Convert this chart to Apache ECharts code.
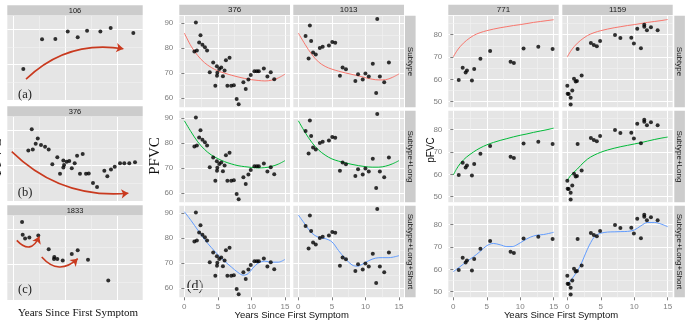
<!DOCTYPE html>
<html><head><meta charset="utf-8">
<script src="https://cdn.jsdelivr.net/npm/echarts@6/dist/echarts.min.js"></script>
<style>html,body{margin:0;padding:0;background:#fff}#c{width:686px;height:320px}</style>
</head><body><div id="c"></div>
<script>
// ---------- Schematic panels (a)-(c) (values in their own schematic units) ----------
const a106X = [0.96, 2.76, 4.04, 5.23, 6.19, 7.09, 8.37, 9.36, 11.54];
const a106Y = [78.8, 87.2, 87.3, 89.4, 87.8, 89.6, 89.4, 90.4, 89.0];
const b376X = [1.77,1.44,1.87,2.35,2.15,2.66,3.05,3.4,3.75,4.23,4.81,4.49,4.88,4.81,5.13,5.38,5.62,5.9,6.13,6.67,6.41,6.99,7.25,7.66,8.05,8.75,9.04,9.39,9.75,10.26,10.67,11.15,11.7];
const b376Y = [90.3,84.3,84.6,87.7,86.2,85.9,85.4,84.6,80.4,82.4,81.5,77.7,80.2,79.5,81.1,81.3,79.3,80.7,82.8,83.3,77.7,77.7,77.8,75.1,74.0,78.6,77.0,78.9,79.7,80.7,80.7,80.7,81.0];
const c1833X = [0.84,0.9,1.13,1.54,2.4,3.4,3.94,3.91,4.23,4.75,5.62,6.19,7.18,9.13];
const c1833Y = [92.1,88.5,87.4,87.7,88.3,84.4,82.2,81.6,81.6,81.2,83.0,84.1,81.4,75.5];
const arrowA  = [[1.22,75.9],[10.58,84.5]];
const arrowB  = [[-0.15,84.0],[11.06,72.2]];
const arrowC1 = [[0.33,86.9],[2.5,88.0]];
const arrowC2 = [[2.73,82.2],[6.19,81.7]];

// ---------- Panel (d): patients 376 and 1013 ----------
const p376X = [1.72,1.5,1.87,2.41,2.21,2.7,3.07,3.39,3.79,4.3,4.85,4.92,4.87,4.62,5.2,5.5,5.75,6.0,6.2,6.74,6.42,6.99,7.38,7.8,8.1,8.8,9.15,9.55,9.9,10.45,10.8,11.1,11.85,12.38,12.88,13.4];
const p376Y = [90.2,78.6,79.0,85.1,82.2,81.3,80.3,79.0,70.4,74.3,72.8,70.2,69.0,65.0,71.7,72.3,68.8,71.1,75.1,76.1,65.0,65.0,65.2,59.7,57.6,66.4,63.7,67.5,69.3,70.8,70.8,70.8,71.9,68.7,70.4,67.6];
const p1013X = [1.72,1.08,1.91,1.53,2.2,2.6,3.2,3.63,4.56,5.06,5.5,6.2,6.6,7.1,8.5,8.9,9.6,10.0,10.5,11.1,11.76,11.6,12.15,12.8,13.5];
const p1013Y = [89.0,84.8,82.8,75.8,78.2,77.4,80.0,80.5,81.0,82.4,82.1,69.0,72.3,71.6,66.9,69.6,67.5,69.9,68.7,73.8,91.6,62.1,68.7,66.4,74.3];
const fitX16 = [0,1,2,3,4,5,6,7,8,9,10,11,12,13,14,15];
const sub376  = [86.0,80.8,77.0,74.2,72.3,70.9,70.0,69.2,68.5,67.9,67.4,67.1,66.9,67.2,68.1,69.6];
const sub1013 = [86.0,81.5,77.5,74.5,72.7,71.6,70.8,70.1,69.5,68.9,68.2,67.6,67.3,67.4,68.3,69.7];
const long376  = [88.9,84.5,80.5,77.5,75.3,73.8,72.6,71.7,71.0,70.6,70.3,70.1,70.2,70.7,71.6,73.0];
const long1013 = [88.9,84.3,80.3,77.3,75.2,73.7,72.8,72.1,71.5,71.0,70.6,70.4,70.4,70.8,71.7,73.0];
const shortX376 = [0,1,2,3,4,5,6,7,8,8.8,9.5,10.2,11,12,13,14,15];
const short376  = [90.5,87.0,83.2,79.5,76.3,73.4,70.8,68.5,66.3,65.2,65.8,68.0,70.0,70.8,70.4,70.4,71.5];
const shortX1013 = [0,1,2,3,4,5,6,7,8,8.8,9.5,10.5,11.5,12.5,13.5,15];
const short1013  = [89.2,85.5,82.0,80.3,79.8,78.5,75.0,71.8,69.3,68.8,69.5,71.0,72.0,72.2,72.2,73.0];

// ---------- Right panel: patients 771 and 1159 ----------
const p771X = [0.81,1.4,1.84,2.04,2.78,3.12,4.05,5.5,8.56,9.05,10.5,12.7,14.84];
const p771Y = [59.7,65.2,63.1,64.0,59.5,64.6,69.2,72.7,67.9,67.3,73.8,74.6,73.6];
const p1159X = [0.0,0.05,0.2,0.5,0.5,0.74,1.0,1.25,1.44,1.54,2.14,3.52,3.96,4.41,4.9,7.13,7.93,9.56,9.95,10.45,11.0,11.5,11.5,11.9,12.5,13.5];
const p1159Y = [57.2,53.6,53.5,51.8,48.8,55.0,60.3,59.0,59.3,73.6,61.7,76.3,75.4,74.8,77.2,79.9,78.5,78.6,76.1,82.7,73.9,83.5,84.5,82.0,83.3,82.0];
const fitX18 = [0,0.5,1,1.5,2,3,4,5,6,7,8,9,10,11,12,13,14,15];
const sub771  = [70.1,72.6,74.6,76.2,77.5,79.6,80.9,81.8,82.5,83.1,83.6,84.1,84.5,85.0,85.5,85.9,86.3,86.7];
const sub1159 = [70.1,72.6,74.6,76.2,77.5,79.6,80.9,81.8,82.5,83.1,83.6,84.1,84.5,85.0,85.5,85.9,86.3,86.8];
const long771  = [59.7,62.5,64.7,66.4,67.8,70.0,71.8,73.2,74.3,75.2,76.0,76.8,77.5,78.1,78.8,79.4,80.0,80.7];
const long1159 = [57.3,59.5,61.0,62.4,64.0,66.8,68.6,69.9,70.9,71.7,72.4,73.0,73.6,74.2,74.9,75.6,76.2,76.7];
const shortX771 = [0,1,2,3,4,5,6,7,8,8.8,9.5,10.5,11.5,12.5,13.5,15];
const short771  = [59.0,61.2,63.5,65.6,68.0,70.6,71.6,71.0,70.2,70.2,71.0,72.8,74.4,75.3,75.6,76.6];
const shortX1159 = [0,0.5,1,1.5,2,2.5,3,3.5,4,4.5,5,6,7,8,9,10,11,12,13,14,15];
const short1159  = [53.3,55.0,57.0,59.3,62.0,65.5,69.0,72.0,74.4,75.6,76.2,76.7,76.8,76.9,77.0,77.6,79.5,81.0,81.0,80.3,79.1];

const xTicks = [0,5,10,15];
const midYTicks = [60,70,80,90];
const rightYTicks = [50,60,70,80];
const rowNames = ['Subtype','Subtype+Long','Subtype+Long+Short'];

// ---------- build ----------
const zip = (xs, ys) => xs.map((x,i) => [x, ys[i]]);
const SANS = '"Liberation Sans", Arial, Helvetica, sans-serif';
const SERIF = '"Liberation Serif", "Times New Roman", "DejaVu Serif", serif';
const COLORS = ['#F8766D','#00BA38','#619CFF'];
const option = {animation:false, grid:[], xAxis:[], yAxis:[], series:[], graphic:{elements:[]}};
const G = option.graphic.elements;

function addPanel(c){
  const gi = option.grid.length;
  option.grid.push({left:c.l, top:c.t, width:c.w, height:c.h, show:true, backgroundColor:'#E5E5E5',
    borderWidth:0, outerBoundsMode:'none', containLabel:false});
  const ax = (maj, range, lab, isX) => ({
    type:'value', gridIndex:gi, min:range[0], max:range[1],
    axisLine:{show:false},
    axisTick:{show:!!lab, customValues:maj, length:3, lineStyle:{color:'#7F7F7F', width:1}},
    axisLabel:{show:!!lab, customValues:maj, color:'#7F7F7F', fontSize:8, fontFamily:SANS,
               margin:isX?5:6, showMinLabel:true, showMaxLabel:true},
    splitLine:{show:true, lineStyle:{color:'#FFFFFF', width:1}}
  });
  option.xAxis.push(ax(c.xMaj, c.xr, c.xLab, true));
  option.yAxis.push(ax(c.yMaj, c.yr, c.yLab, false));
  const minor = c.xMin.map(v => ({xAxis:v})).concat(c.yMin.map(v => ({yAxis:v})));
  option.series.push({type:'scatter', xAxisIndex:gi, yAxisIndex:gi, data:c.pts, symbolSize:4,
    itemStyle:{color:'#000'}, z:4, silent:true,
    markLine:{silent:true, z:1, animation:false, symbol:['none','none'], label:{show:false},
      lineStyle:{color:'#F2F2F2', width:0.6, type:'solid'}, emphasis:{disabled:true}, data:minor}});
  if (c.fit) option.series.push({type:'line', xAxisIndex:gi, yAxisIndex:gi, data:c.fit, smooth:0.35,
    showSymbol:false, symbol:'none', z:3, silent:true, lineStyle:{color:c.color, width:1}});
  (c.arrows||[]).forEach(a => option.series.push({type:'lines', coordinateSystem:'cartesian2d',
    xAxisIndex:gi, yAxisIndex:gi, z:5, silent:true, symbol:['none','arrow'], symbolSize:7,
    effect:{show:false}, data:[{coords:a.p}],
    lineStyle:{color:'#C93A1F', width:1.6, curveness:a.cv, opacity:1}}));
}
function rect(x,y,w,h,fill){ G.push({type:'rect', shape:{x,y,width:w,height:h}, style:{fill}, silent:true}); }
function text(x,y,s,font,rot,fill){ G.push({type:'text', x, y, rotation:rot||0, silent:true,
  style:{text:s, font, fill:fill||'#1A1A1A', align:'center', verticalAlign:'middle', textAlign:'center', textVerticalAlign:'middle'}}); }

// Left schematic facets
const leftFacets = [
  {t:16,  name:'106',  pts:zip(a106X,a106Y),  arrows:[{p:arrowA, cv:0.25}], lab:'(a)', ly:95},
  {t:117, name:'376',  pts:zip(b376X,b376Y),  arrows:[{p:arrowB, cv:-0.23}], lab:'(b)', ly:193},
  {t:216, name:'1833', pts:zip(c1833X,c1833Y), arrows:[{p:arrowC1, cv:-0.75},{p:arrowC2, cv:-0.51}], lab:'(c)', ly:289.5}
];
leftFacets.forEach(f => {
  addPanel({l:7.3, t:f.t, w:135.4, h:84, xr:[-0.58,12.44], yr:[70.0,93.8], xMaj:[0,5,10], yMaj:[80,90],
            xMin:[2.5,7.5], yMin:[75,85], pts:f.pts, arrows:f.arrows});
  rect(7.3, f.t-10.7, 135.4, 10.2, '#CCCCCC');
  text(75, f.t-5.4, f.name, '7.5px '+SANS);
  text(25, f.ly, f.lab, '12.5px '+SERIF, 0, '#222');
});

// Middle (d) and right panels
const rowTops = [15.7, 110.7, 205.7];
const rowH = 91.6;
function block(cols, colW, yr, yMaj, yMin, pats, stripX){
  pats.forEach((p, ci) => {
    rect(cols[ci], 4.8, colW, 10.2, '#CCCCCC');
    text(cols[ci]+colW/2, 9.9, p.name, '8px '+SANS);
    rowTops.forEach((t, ri) => {
      addPanel({l:cols[ci], t, w:colW, h:rowH, xr:[-0.75,15.75], yr, xMaj:xTicks, yMaj,
        xMin:[2.5,7.5,12.5], yMin, pts:p.pts, fit:p.fits[ri], color:COLORS[ri],
        xLab: ri===2, yLab: ci===0});
    });
  });
  rowTops.forEach((t, ri) => {
    rect(stripX, t, 10.6, rowH, '#CCCCCC');
    text(stripX+5.3, t+rowH/2, rowNames[ri], '8px '+SANS, -Math.PI/2);
  });
}
block([179.3, 293.3], 110.7, [56.4, 92.9], midYTicks, [65,75,85], [
  {name:'376', pts:zip(p376X,p376Y), fits:[zip(fitX16,sub376), zip(fitX16,long376), zip(shortX376,short376)]},
  {name:'1013', pts:zip(p1013X,p1013Y), fits:[zip(fitX16,sub1013), zip(fitX16,long1013), zip(shortX1013,short1013)]}
], 405);
block([448.3, 562.3], 110.4, [47.5, 88.5], rightYTicks, [55,65,75,85], [
  {name:'771', pts:zip(p771X,p771Y), fits:[zip(fitX18,sub771), zip(fitX18,long771), zip(shortX771,short771)]},
  {name:'1159', pts:zip(p1159X,p1159Y), fits:[zip(fitX18,sub1159), zip(fitX18,long1159), zip(shortX1159,short1159)]}
], 674.3);

text(195, 286, '(d)', '14px '+SERIF, 0, '#222');
// axis titles
text(-2.5, 157, 'PFVC', '15px '+SERIF, Math.PI/2, '#111');
text(155, 156, 'PFVC', '15px '+SERIF, Math.PI/2, '#111');
text(431, 150, 'pFVC', '10px '+SANS, Math.PI/2, '#111');
text(78, 313.5, 'Years Since First Symptom', '11px '+SERIF, 0, '#111');
text(291.7, 315, 'Years Since First Symptom', '9.5px '+SANS, 0, '#111');
text(561, 315, 'Years Since First Symptom', '9.5px '+SANS, 0, '#111');

const chart = echarts.init(document.getElementById('c'), null, {renderer:'canvas'});
chart.setOption(option);
</script></body></html>
